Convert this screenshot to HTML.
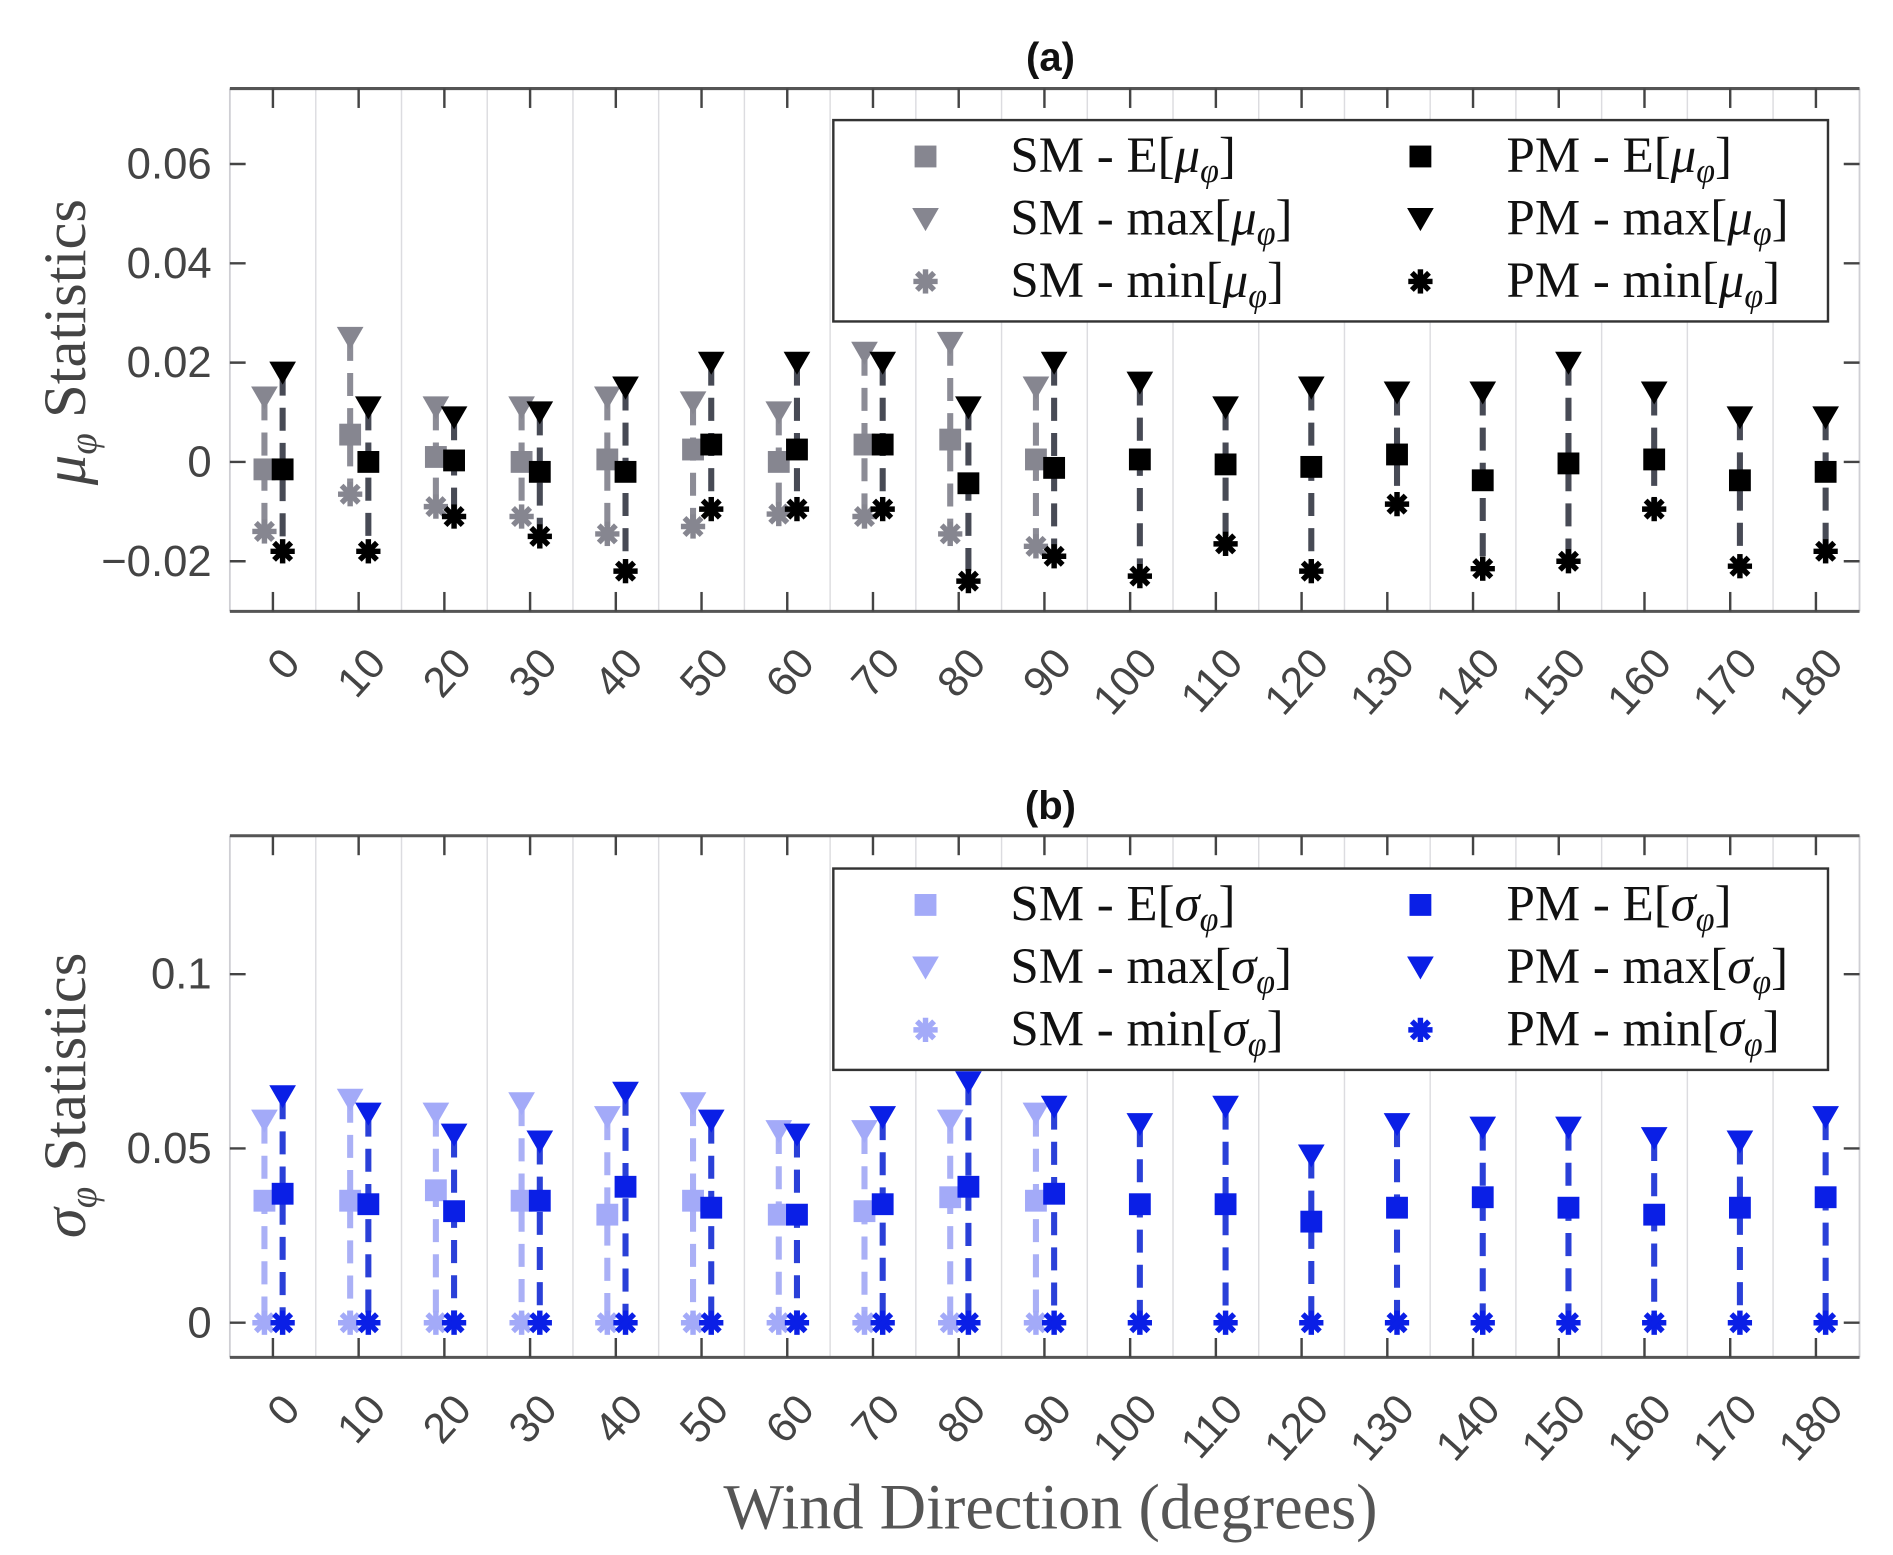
<!DOCTYPE html>
<html><head><meta charset="utf-8"><style>
html,body{margin:0;padding:0;background:#fff;}
svg{display:block;}
</style></head><body>
<svg id="fig" width="1893" height="1555" viewBox="0 0 1560.6 1281.9" preserveAspectRatio="none" xmlns="http://www.w3.org/2000/svg">
</svg>
<script>
const categories=[0,10,20,30,40,50,60,70,80,90,100,110,120,130,140,150,160,170,180];
const smCategories=[0,10,20,30,40,50,60,70,80,90];
// Panel (a) mu statistics
const pmMuMax=[0.018,0.011,0.009,0.010,0.015,0.020,0.020,0.020,0.011,0.020,0.016,0.011,0.015,0.014,0.014,0.020,0.014,0.009,0.009];
const pmMuMean=[-0.0015,0,0.0003,-0.002,-0.002,0.0035,0.0025,0.0035,-0.0043,-0.0012,0.0005,-0.0005,-0.001,0.0015,-0.0037,-0.0003,0.0005,-0.0037,-0.002];
const pmMuMin=[-0.018,-0.018,-0.011,-0.015,-0.022,-0.0095,-0.0095,-0.0095,-0.024,-0.019,-0.023,-0.0165,-0.022,-0.0085,-0.0215,-0.020,-0.0095,-0.021,-0.018];
const smMuMax=[0.013,0.025,0.011,0.011,0.013,0.012,0.010,0.022,0.024,0.015];
const smMuMean=[-0.0015,0.0055,0.001,0,0.0005,0.0025,0,0.0035,0.0045,0.0005];
const smMuMin=[-0.014,-0.0065,-0.009,-0.011,-0.0145,-0.013,-0.0105,-0.011,-0.0145,-0.017];
const muTicks=[-0.02,0,0.02,0.04,0.06];
const muTickLabels=["\u22120.02","0","0.02","0.04","0.06"];
// Panel (b) sigma statistics
const pmSigMax=[0.065,0.060,0.054,0.052,0.066,0.058,0.054,0.059,0.069,0.062,0.057,0.062,0.048,0.057,0.056,0.056,0.053,0.052,0.059];
const pmSigMean=[0.037,0.034,0.032,0.035,0.039,0.033,0.031,0.034,0.039,0.037,0.034,0.034,0.029,0.033,0.036,0.033,0.031,0.033,0.036];
const pmSigMin=[0,0,0,0,0,0,0,0,0,0,0,0,0,0,0,0,0,0,0];
const smSigMax=[0.058,0.064,0.060,0.063,0.059,0.063,0.055,0.055,0.058,0.060];
const smSigMean=[0.035,0.035,0.038,0.035,0.031,0.035,0.031,0.032,0.036,0.035];
const smSigMin=[0,0,0,0,0,0,0,0,0,0];
const sigTicks=[0,0.05,0.1];
const sigTickLabels=["0","0.05","0.1"];

const NS="http://www.w3.org/2000/svg";
const svg=document.getElementById('fig');
function mk(tag,attrs,parent,text){const e=document.createElementNS(NS,tag);for(const k in attrs)e.setAttribute(k,attrs[k]);if(text!==undefined)e.textContent=text;(parent||svg).appendChild(e);return e;}

const X0=189.5,X1=1533;
const STEP=70.67;
function xs(v){return 225+(v/10)*STEP;}

function marker(g,type,x,y,color){
  if(type==='sq'){mk('rect',{x:x-9,y:y-9,width:18,height:18,fill:color},g);}
  else if(type==='tri'){mk('polygon',{points:`${x-11},${y-9} ${x+11},${y-9} ${x},${y+10}`,fill:color},g);}
  else{
    for(let a=0;a<4;a++){const ang=a*Math.PI/4;const dx=Math.cos(ang)*10,dy=Math.sin(ang)*10;
      mk('line',{x1:x-dx,y1:y-dy,x2:x+dx,y2:y+dy,stroke:color,'stroke-width':4.5},g);}
  }
}

function panel(opt){
  const {top,bot,ymin,ymax,ticks,tickLabels,title,titleY,series,legendY}=opt;
  const ys=v=>bot-(v-ymin)/(ymax-ymin)*(bot-top);
  const g=mk('g',{});
  
  
  for(let i=0;i<categories.length-1;i++){
    const gl=mk('line',{x1:xs(categories[i])+STEP/2,x2:xs(categories[i])+STEP/2,y1:top,y2:bot,stroke:'#dcdce0','stroke-width':1.2},g);
    
    
  }
  mk('line',{x1:X0,x2:X0,y1:top,y2:bot,stroke:'#cfcfd4','stroke-width':1.5},g);
  mk('line',{x1:X1,x2:X1,y1:top,y2:bot,stroke:'#cfcfd4','stroke-width':1.5},g);
  mk('line',{x1:X0,x2:X1,y1:top,y2:top,stroke:'#555','stroke-width':2.5},g);
  mk('line',{x1:X0,x2:X1,y1:bot,y2:bot,stroke:'#555','stroke-width':2.5},g);
  categories.forEach(c=>{
    const x=xs(c);
    mk('line',{x1:x,x2:x,y1:bot,y2:bot-16,stroke:'#444','stroke-width':2},g);
    mk('line',{x1:x,x2:x,y1:top,y2:top+16,stroke:'#444','stroke-width':2},g);
    const ax=x+24, ay=bot+44;
    const t=mk('text',{x:ax,y:ay,'text-anchor':'end','font-family':'Liberation Sans, sans-serif','font-size':35,fill:'#444',transform:`rotate(-48 ${ax} ${ay})`},g,String(c));
    
    
  });
  ticks.forEach((v,i)=>{
    const y=ys(v);
    mk('line',{x1:X0,x2:X0+13,y1:y,y2:y,stroke:'#444','stroke-width':2},g);
    mk('line',{x1:X1,x2:X1-13,y1:y,y2:y,stroke:'#444','stroke-width':2},g);
    const t=mk('text',{x:X0-15,y:y+12,'text-anchor':'end','font-family':'Liberation Sans, sans-serif','font-size':36,fill:'#444'},g,tickLabels[i]);
    
    
  });
  series.forEach(s=>{
    const sg=mk('g',{},g);
    
    
    s.cats.forEach((c,i)=>{
      const x=xs(c)+s.off;
      mk('line',{x1:x,x2:x,y1:ys(s.max[i]),y2:ys(s.min[i]),stroke:s.lc,'stroke-width':5,'stroke-dasharray':'19 10'},sg);
    });
    s.cats.forEach((c,i)=>{
      const x=xs(c)+s.off;
      marker(sg,'tri',x,ys(s.max[i]),s.color);
      marker(sg,'sq',x,ys(s.mean[i]),s.color);
      marker(sg,'ast',x,ys(s.min[i]),s.color);
    });
  });
  const tt=mk('text',{x:866,y:titleY,'text-anchor':'middle','font-family':'Liberation Sans, sans-serif','font-weight':'bold','font-size':33,fill:'#111'},g,title);
  
  
  const cy=opt.ylabelY;
  const yl=mk('text',{x:0,y:0,'text-anchor':'middle','font-family':'Liberation Serif, serif','font-size':50,fill:'#444',transform:`translate(70 ${cy}) rotate(-90)`},g);
  
  
  mk('tspan',{'font-style':'italic'},yl,opt.sym);
  mk('tspan',{'font-style':'italic','font-size':32,dy:9},yl,'\u03c6');
  mk('tspan',{dy:-9},yl,'  Statistics');
  const lg=mk('g',{},g);
  
  
  mk('rect',{x:687,y:legendY,width:820,height:166,fill:'#fff',stroke:'#333','stroke-width':2},lg);
  const kinds=[['sq','E'],['tri','max'],['ast','min']];
  [['SM',series[0].color,763,833],['PM',series[1].color,1171,1242]].forEach(([lab,col,mx,tx])=>{
    kinds.forEach(([k,w],r)=>{
      const y=legendY+30+r*51.5;
      const e=mk('g',{},lg);
      
      
      marker(e,k,mx,y,col);
      const t=mk('text',{x:tx,y:y+13,'font-family':'Liberation Serif, serif','font-size':42,fill:'#111'},e);
      mk('tspan',{},t,`${lab} - ${w}[`);
      mk('tspan',{'font-style':'italic'},t,opt.sym);
      mk('tspan',{'font-style':'italic','font-size':28,dy:8},t,'\u03c6');
      mk('tspan',{dy:-8},t,']');
    });
  });
}

panel({name:'panel-a-mu',top:73,bot:504,ymin:-0.0301,ymax:0.0752,ticks:muTicks,tickLabels:muTickLabels,title:'(a)',titleY:58,sym:'\u03bc',legendY:99,ylabelY:282,
  series:[
    {name:'sm-mu-series',cats:smCategories,max:smMuMax,mean:smMuMean,min:smMuMin,off:-7,color:'#868690',lc:'#8c8c96'},
    {name:'pm-mu-series',cats:categories,max:pmMuMax,mean:pmMuMean,min:pmMuMin,off:8,color:'#000',lc:'#474a55'}
  ]});
panel({name:'panel-b-sigma',top:689,bot:1119,ymin:-0.00995,ymax:0.1397,ticks:sigTicks,tickLabels:sigTickLabels,title:'(b)',titleY:675,sym:'\u03c3',legendY:716,ylabelY:903,
  series:[
    {name:'sm-sigma-series',cats:smCategories,max:smSigMax,mean:smSigMean,min:smSigMin,off:-7,color:'#a3aaf8',lc:'#aab0f6'},
    {name:'pm-sigma-series',cats:categories,max:pmSigMax,mean:pmSigMean,min:pmSigMin,off:8,color:'#0a1fe6',lc:'#2a40d8'}
  ]});
const xl=mk('text',{x:866,y:1260,'text-anchor':'middle','font-family':'Liberation Serif, serif','font-size':53,fill:'#555'},svg,'Wind Direction (degrees)');


</script>
</body></html>
